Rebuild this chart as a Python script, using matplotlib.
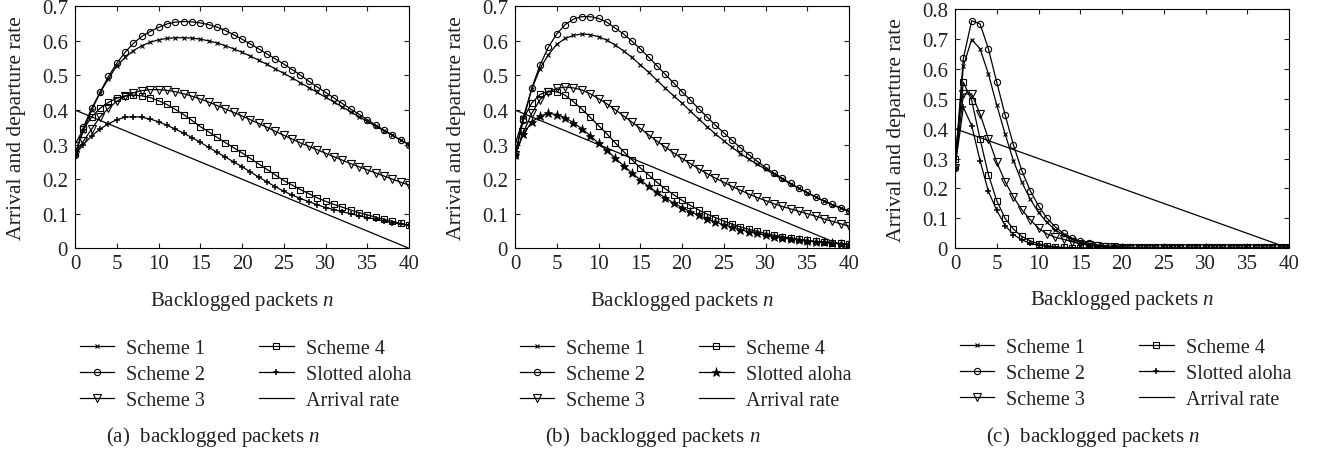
import numpy as np
import matplotlib
matplotlib.use("Agg")
import matplotlib.pyplot as plt

plt.rcParams["font.family"] = ["Liberation Serif", "DejaVu Serif"]
plt.rcParams["mathtext.fontset"] = "custom"
plt.rcParams["mathtext.rm"] = "Liberation Serif"
plt.rcParams["mathtext.it"] = "Liberation Serif:italic"

n = np.arange(41)

# panel (a)
a_s1 = [0.27, 0.34, 0.40, 0.45, 0.49, 0.528, 0.552, 0.572, 0.586, 0.596, 0.603,
        0.607, 0.609, 0.609, 0.608, 0.605, 0.6, 0.594, 0.586, 0.577, 0.567,
        0.556, 0.544, 0.532, 0.519, 0.506, 0.493, 0.479, 0.465, 0.451, 0.437,
        0.423, 0.409, 0.395, 0.381, 0.367, 0.353, 0.34, 0.327, 0.313, 0.30]
a_s2 = [0.27, 0.35, 0.405, 0.451, 0.497, 0.535, 0.567, 0.593, 0.613, 0.627, 0.639,
        0.649, 0.654, 0.656, 0.655, 0.652, 0.647, 0.64, 0.63, 0.618, 0.605,
        0.591, 0.577, 0.562, 0.548, 0.533, 0.517, 0.501, 0.483, 0.467, 0.451,
        0.435, 0.419, 0.403, 0.388, 0.372, 0.357, 0.342, 0.328, 0.313, 0.30]
a_s3 = [0.27, 0.31, 0.345, 0.38, 0.405, 0.425, 0.44, 0.45, 0.456, 0.459, 0.459,
        0.457, 0.453, 0.447, 0.44, 0.432, 0.423, 0.413, 0.403, 0.393, 0.383,
        0.372, 0.361, 0.35, 0.338, 0.327, 0.316, 0.305, 0.295, 0.285, 0.275,
        0.265, 0.255, 0.245, 0.236, 0.227, 0.218, 0.209, 0.2, 0.191, 0.183]
a_s4 = [0.30, 0.345, 0.38, 0.405, 0.422, 0.434, 0.441, 0.443, 0.441, 0.436, 0.427,
        0.416, 0.402, 0.387, 0.37, 0.352, 0.337, 0.321, 0.306, 0.291, 0.276,
        0.26, 0.244, 0.228, 0.212, 0.196, 0.183, 0.17, 0.158, 0.146, 0.136,
        0.127, 0.119, 0.111, 0.103, 0.097, 0.09, 0.084, 0.078, 0.072, 0.067]
a_aloha = [0.27, 0.30, 0.325, 0.345, 0.36, 0.372, 0.379, 0.381, 0.379, 0.374, 0.366,
           0.356, 0.345, 0.333, 0.32, 0.307, 0.292, 0.278, 0.264, 0.25, 0.236,
           0.221, 0.206, 0.192, 0.178, 0.165, 0.154, 0.144, 0.135, 0.126, 0.118,
           0.112, 0.106, 0.1, 0.094, 0.089, 0.084, 0.079, 0.074, 0.07, 0.066]

# panel (b)
b_s1 = [0.27, 0.38, 0.46, 0.52, 0.56, 0.59, 0.607, 0.616, 0.62, 0.618, 0.612,
        0.602, 0.588, 0.571, 0.552, 0.531, 0.509, 0.486, 0.463, 0.441, 0.42,
        0.397, 0.374, 0.352, 0.331, 0.311, 0.292, 0.274, 0.258, 0.243, 0.229,
        0.214, 0.2, 0.186, 0.173, 0.16, 0.148, 0.137, 0.126, 0.116, 0.107]
b_s2 = [0.27, 0.37, 0.463, 0.53, 0.582, 0.62, 0.647, 0.663, 0.67, 0.67, 0.665,
        0.654, 0.637, 0.62, 0.599, 0.577, 0.553, 0.528, 0.503, 0.478, 0.453,
        0.429, 0.404, 0.38, 0.356, 0.334, 0.312, 0.291, 0.271, 0.252, 0.234,
        0.218, 0.203, 0.188, 0.174, 0.162, 0.149, 0.137, 0.127, 0.117, 0.107]
b_s3 = [0.27, 0.335, 0.39, 0.43, 0.452, 0.463, 0.466, 0.464, 0.458, 0.447, 0.433,
        0.418, 0.401, 0.383, 0.365, 0.347, 0.328, 0.31, 0.293, 0.276, 0.26,
        0.245, 0.23, 0.216, 0.203, 0.191, 0.179, 0.168, 0.157, 0.147, 0.138,
        0.129, 0.121, 0.114, 0.107, 0.1, 0.093, 0.085, 0.078, 0.071, 0.064]
b_s4 = [0.30, 0.375, 0.42, 0.445, 0.455, 0.453, 0.443, 0.424, 0.403, 0.379, 0.355,
        0.331, 0.305, 0.28, 0.256, 0.233, 0.212, 0.191, 0.172, 0.155, 0.139,
        0.124, 0.111, 0.099, 0.089, 0.079, 0.07, 0.062, 0.055, 0.049, 0.043,
        0.038, 0.034, 0.03, 0.026, 0.023, 0.02, 0.018, 0.016, 0.014, 0.012]
b_aloha = [0.27, 0.33, 0.365, 0.383, 0.39, 0.387, 0.378, 0.363, 0.346, 0.326, 0.304,
           0.283, 0.261, 0.239, 0.218, 0.198, 0.179, 0.162, 0.146, 0.131, 0.118,
           0.106, 0.095, 0.085, 0.076, 0.068, 0.061, 0.054, 0.048, 0.043, 0.038,
           0.034, 0.03, 0.027, 0.024, 0.021, 0.019, 0.017, 0.015, 0.013, 0.011]

# panel (c)
c_s1 = [0.27, 0.61, 0.698, 0.667, 0.583, 0.479, 0.382, 0.293, 0.221, 0.165, 0.12,
        0.087, 0.062, 0.044, 0.03, 0.02, 0.013, 0.009, 0.006, 0.004, 0.003,
        0.002, 0.001, 0.001, 0.001, 0.0, 0.0, 0.0, 0.0, 0.0, 0.0,
        0.0, 0.0, 0.0, 0.0, 0.0, 0.0, 0.0, 0.0, 0.0, 0.0]
c_s2 = [0.27, 0.635, 0.761, 0.75, 0.667, 0.555, 0.446, 0.345, 0.26, 0.193, 0.142,
        0.101, 0.072, 0.05, 0.034, 0.023, 0.017, 0.012, 0.008, 0.006, 0.004,
        0.003, 0.002, 0.002, 0.001, 0.001, 0.001, 0.001, 0.0, 0.0, 0.0,
        0.0, 0.0, 0.0, 0.0, 0.0, 0.0, 0.0, 0.0, 0.0, 0.0]
c_s3 = [0.27, 0.516, 0.516, 0.449, 0.366, 0.288, 0.223, 0.171, 0.129, 0.096, 0.067,
        0.048, 0.037, 0.03, 0.022, 0.015, 0.01, 0.007, 0.005, 0.003, 0.002,
        0.001, 0.001, 0.0, 0.0, 0.0, 0.0, 0.0, 0.0, 0.0, 0.0,
        0.0, 0.0, 0.0, 0.0, 0.0, 0.0, 0.0, 0.0, 0.0, 0.0]
c_s4 = [0.30, 0.555, 0.494, 0.366, 0.246, 0.159, 0.1, 0.064, 0.04, 0.025, 0.015,
        0.009, 0.005, 0.003, 0.002, 0.001, 0.001, 0.0, 0.0, 0.0, 0.0,
        0.0, 0.0, 0.0, 0.0, 0.0, 0.0, 0.0, 0.0, 0.0, 0.0,
        0.0, 0.0, 0.0, 0.0, 0.0, 0.0, 0.0, 0.0, 0.0, 0.0]
c_aloha = [0.27, 0.471, 0.41, 0.293, 0.19, 0.127, 0.076, 0.046, 0.028, 0.017, 0.01,
           0.006, 0.003, 0.002, 0.001, 0.0, 0.0, 0.0, 0.0, 0.0, 0.0,
           0.0, 0.0, 0.0, 0.0, 0.0, 0.0, 0.0, 0.0, 0.0, 0.0,
           0.0, 0.0, 0.0, 0.0, 0.0, 0.0, 0.0, 0.0, 0.0, 0.0]

# arrival rate is a straight line, given by its end points
arrival_n = [0, 40]
arrival_rate = [0.40, 0.0]

labels = ["Scheme 1", "Scheme 2", "Scheme 3", "Scheme 4", "Slotted aloha", "Arrival rate"]
captions = ["(a)", "(b)", "(c)"]

FS = 15
TXT = "#222222"
W, H = 1320, 452


def draw_panel(ax, s1, s2, s3, s4, aloha, ymax, aloha_marker, offset, caption):
    kw = dict(color="black", linewidth=0.9, mfc="none", mec="black", mew=0.8)
    h1, = ax.plot(n, s1, marker="x", markersize=3.2, **kw)
    h2, = ax.plot(n, s2, marker="o", markersize=4.5, **kw)
    h3, = ax.plot(n, s3, marker="v", markersize=5.5, **kw)
    h4, = ax.plot(n, s4, marker="s", markersize=4.5, **kw)
    if aloha_marker == "*":
        h5, = ax.plot(n, aloha, marker="*", markersize=6.5, color="black",
                      linewidth=0.9, mfc="black", mec="black", mew=0.5)
    else:
        h5, = ax.plot(n, aloha, marker="+", markersize=4.5, color="black",
                      linewidth=0.9, mew=1.1)
    h6, = ax.plot(arrival_n, arrival_rate, color="black", linewidth=0.9)

    ax.set_xlim(0, 40)
    ax.set_ylim(0, ymax)
    ax.set_xticks(range(0, 41, 5))
    yt = np.round(np.arange(0, ymax + 0.01, 0.1), 1)
    ax.set_yticks(yt)
    ax.set_yticklabels(["0"] + [f"{v:.1f}" for v in yt[1:]])
    ax.tick_params(direction="in", top=True, right=True, length=3.5, width=0.8,
                   labelsize=FS, colors=TXT)
    ax.tick_params(axis="x", pad=4)
    ax.tick_params(axis="y", pad=5)
    for sp in ax.spines.values():
        sp.set_linewidth(0.8)

    ax.text(0.5, -(301 - 249) / 242, r"Backlogged packets $n$", transform=ax.transAxes,
            ha="center", va="center", fontsize=FS, color=TXT)
    ax.text(-0.176, 0.5, "Arrival and departure rate", transform=ax.transAxes,
            rotation=90, ha="center", va="center", fontsize=FS + 0.6, color=TXT)

    leg = ax.legend([h1, h2, h3, h4, h5, h6], labels, loc="upper center",
                    bbox_to_anchor=(0.51, -0.30), ncol=2, frameon=False, fontsize=14.5,
                    handlelength=1.7, handletextpad=0.6, columnspacing=2.7,
                    labelspacing=0.33)
    for t in leg.get_texts():
        t.set_color(TXT)

    fig.text((offset + 213) / W, 1 - 437 / H, caption + r"  backlogged packets $n$",
             ha="center", va="center", fontsize=FS, color=TXT)


fig = plt.figure(figsize=(13.2, 4.52), dpi=100)
ax_a = fig.add_axes([75 / W, 1 - 249.3 / H, 334 / W, 242 / H])
ax_b = fig.add_axes([515 / W, 1 - 249.3 / H, 334 / W, 242 / H])
ax_c = fig.add_axes([955 / W, 1 - 249.3 / H, 334 / W, 239.3 / H])

draw_panel(ax_a, a_s1, a_s2, a_s3, a_s4, a_aloha, 0.7, "+", 0, captions[0])
draw_panel(ax_b, b_s1, b_s2, b_s3, b_s4, b_aloha, 0.7, "*", 440, captions[1])
draw_panel(ax_c, c_s1, c_s2, c_s3, c_s4, c_aloha, 0.8, "+", 880, captions[2])

fig.savefig("out.png", dpi=100)
